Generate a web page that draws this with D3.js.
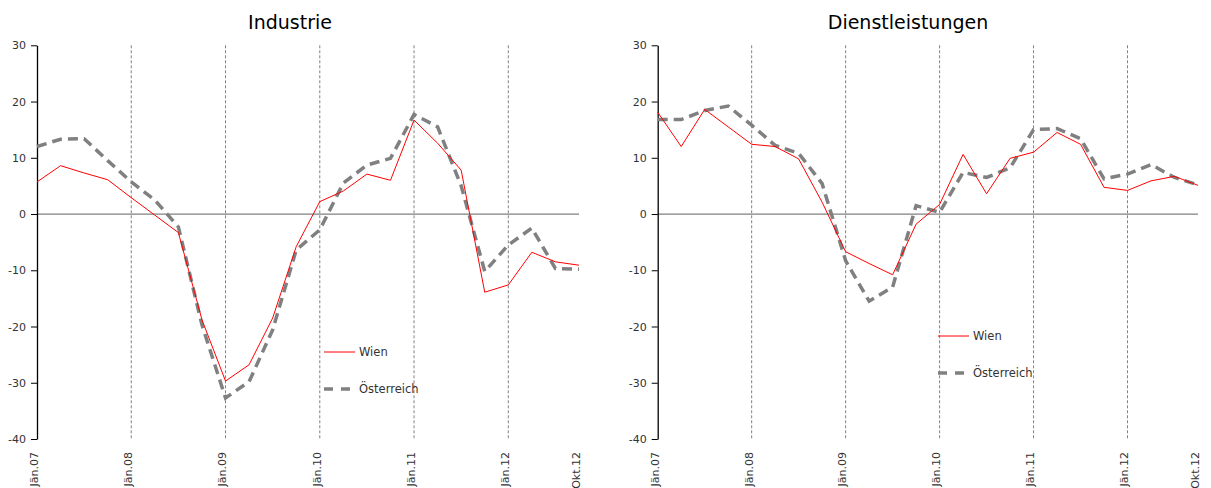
<!DOCTYPE html>
<html><head><meta charset="utf-8">
<script src="https://cdn.jsdelivr.net/npm/d3@7"></script>
<style>
body{margin:0;background:#fff;}
svg{display:block;font-family:"DejaVu Sans",sans-serif;}
</style></head>
<body><svg id="c" width="1211" height="488"></svg>
<script>
const quarters = ["Jän.07","Apr.07","Jul.07","Okt.07","Jän.08","Apr.08","Jul.08","Okt.08","Jän.09","Apr.09","Jul.09","Okt.09","Jän.10","Apr.10","Jul.10","Okt.10","Jän.11","Apr.11","Jul.11","Okt.11","Jän.12","Apr.12","Jul.12","Okt.12"];
const tickLabels = ["Jän.07","Jän.08","Jän.09","Jän.10","Jän.11","Jän.12","Okt.12"];
const yTicks = [30,20,10,0,-10,-20,-30,-40];
const industrieWien = [5.7,8.6,7.3,6.1,2.9,-0.2,-3.3,-18.8,-29.7,-26.8,-18.5,-5.8,2.2,4.1,7.1,6.0,16.7,12.6,7.8,-13.9,-12.6,-6.8,-8.5,-9.1];
const industrieOe = [12.0,13.3,13.4,9.5,5.7,2.5,-2.3,-19.7,-32.7,-29.8,-20.6,-6.4,-2.8,5.5,8.7,9.9,17.7,15.5,5.0,-10.2,-5.5,-2.5,-9.7,-9.8];
const dienstWien = [18.1,12.0,18.6,15.5,12.4,12.0,9.8,2.1,-6.7,-8.8,-10.8,-1.8,1.7,10.6,3.6,9.9,11.0,14.5,12.4,4.75,4.2,5.9,6.7,5.1];
const dienstOe = [16.8,16.8,18.4,19.2,15.8,12.2,10.8,5.4,-8.3,-15.5,-13.0,1.5,0.3,7.4,6.5,8.2,15.0,15.2,13.4,6.25,7.1,8.8,6.5,5.2];
const seriesNames = ["Wien","Österreich"];

const svg = d3.select("#c");
const panels = [
  {title:"Industrie", wien:industrieWien, oe:industrieOe, x0:37, x1:579, tx:290, legX:324, legY:352},
  {title:"Dienstleistungen", wien:dienstWien, oe:dienstOe, x0:657.7, x1:1198, tx:908, legX:938, legY:336}
];
panels.forEach(p => {
  const g = svg.append("g");
  const x = d3.scalePoint().domain(quarters).range([p.x0, p.x1]);
  const y = d3.scaleLinear().domain([-40,30]).range([439,45.3]);
  g.append("text").attr("x",p.tx).attr("y",29).attr("text-anchor","middle")
    .attr("font-size",19).attr("fill","#000").text(p.title);
  tickLabels.slice(1,6).forEach(t => {
    g.append("line").attr("x1",x(t)).attr("x2",x(t)).attr("y1",y(30)).attr("y2",y(-40))
      .attr("stroke","#808080").attr("stroke-width",1).attr("stroke-dasharray","3,2");
  });
  g.append("line").attr("x1",p.x0).attr("x2",p.x1).attr("y1",y(0)).attr("y2",y(0))
    .attr("stroke","#808080").attr("stroke-width",1.2);
  const ya = g.append("g").attr("transform",`translate(${p.x0},0)`)
    .call(d3.axisLeft(y).tickValues(yTicks).tickFormat(d => String(d)).tickSize(6).tickSizeOuter(0).tickPadding(5));
  ya.select(".domain").attr("stroke","#000").attr("stroke-width",1.3);
  ya.selectAll(".tick line").attr("stroke","#000");
  ya.selectAll(".tick text").attr("font-size",11).attr("fill","#333").attr("font-family","DejaVu Sans");
  tickLabels.forEach(t => {
    g.append("text").attr("transform",`translate(${x(t)-3},452) rotate(-90)`)
      .attr("text-anchor","end").attr("dy","0.35em").attr("font-size",11).attr("fill","#333").text(t);
  });
  const line = d3.line().x((d,i)=>x(quarters[i])).y(d=>y(d));
  g.append("path").datum(p.oe).attr("d",line).attr("fill","none")
    .attr("stroke","#808080").attr("stroke-width",3.5).attr("stroke-dasharray","10,6");
  g.append("path").datum(p.wien).attr("d",line).attr("fill","none")
    .attr("stroke","#ff0000").attr("stroke-width",1);
  g.append("line").attr("x1",p.legX).attr("x2",p.legX+31).attr("y1",p.legY).attr("y2",p.legY)
    .attr("stroke","#ff0000").attr("stroke-width",1);
  g.append("text").attr("x",p.legX+35).attr("y",p.legY).attr("dy","0.35em").attr("font-size",11.5).attr("fill","#333").text(seriesNames[0]);
  g.append("line").attr("x1",p.legX).attr("x2",p.legX+31).attr("y1",p.legY+37).attr("y2",p.legY+37)
    .attr("stroke","#808080").attr("stroke-width",3.5).attr("stroke-dasharray","9,8");
  g.append("text").attr("x",p.legX+35).attr("y",p.legY+37).attr("dy","0.35em").attr("font-size",11.5).attr("fill","#333").text(seriesNames[1]);
});
</script></body></html>
